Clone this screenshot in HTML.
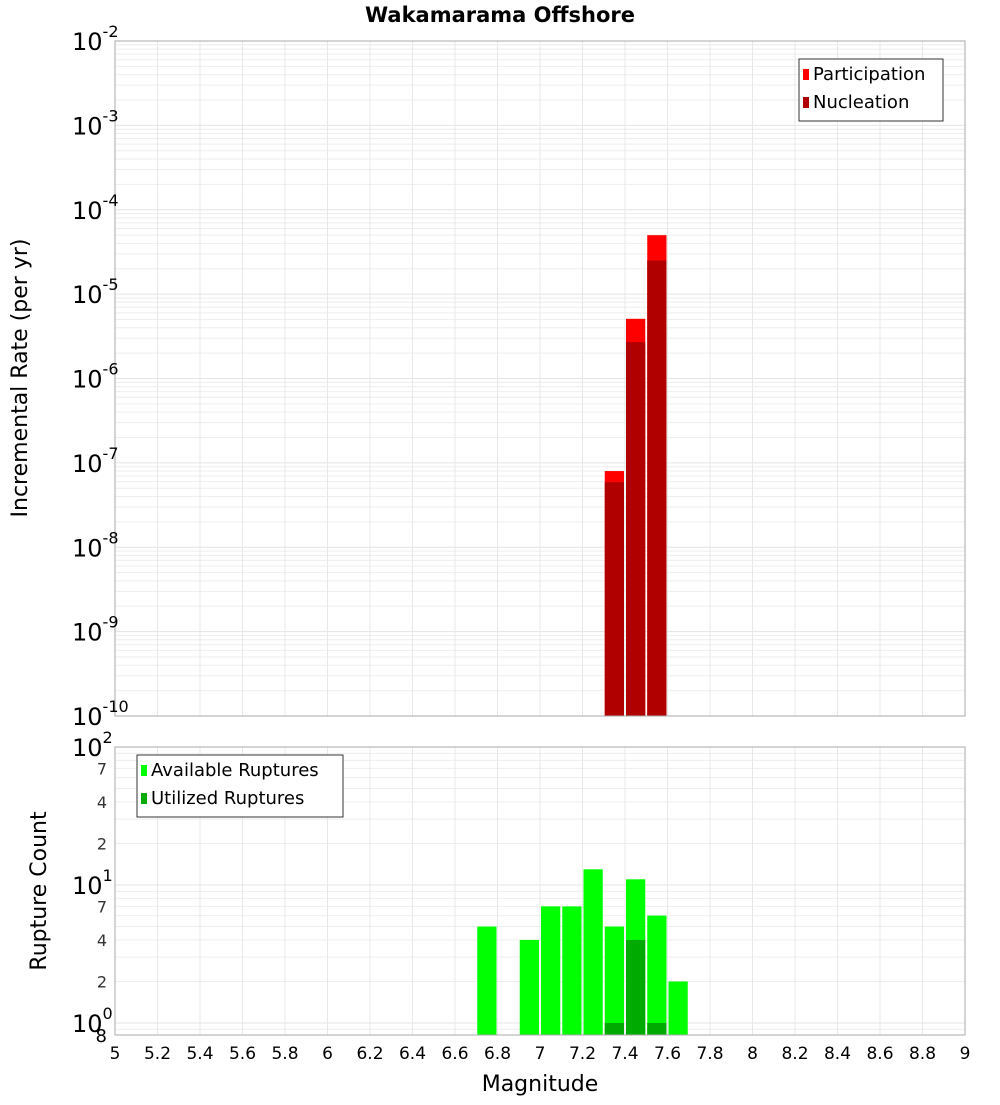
<!DOCTYPE html>
<html><head><meta charset="utf-8"><style>
body{margin:0;background:#fff}
svg text{font-family:"DejaVu Sans","Liberation Sans",sans-serif}
</style></head><body>
<svg id="c" width="1000" height="1100" xmlns="http://www.w3.org/2000/svg">
<text x="500" y="22" text-anchor="middle" font-size="21" font-weight="bold">Wakamarama Offshore</text>
<g id="top"></g>
<g id="bot"></g>
<text transform="translate(27,378) rotate(-90)" text-anchor="middle" font-size="22">Incremental Rate (per yr)</text>
<text transform="translate(46,891) rotate(-90)" text-anchor="middle" font-size="22">Rupture Count</text>
<text x="540" y="1091" text-anchor="middle" font-size="22">Magnitude</text>
</svg>
<script>
const mags = [6.75,6.85,6.95,7.05,7.15,7.25,7.35,7.45,7.55,7.65];
const participation = [0,0,0,0,0,0,8.0e-8,5.1e-6,5.0e-5,0];
const nucleation = [0,0,0,0,0,0,5.9e-8,2.7e-6,2.5e-5,0];
const available = [5,0,4,7,7,13,5,11,6,2];
const utilized = [0,0,0,0,0,0,1,4,1,0];
const xTicks = [5,5.2,5.4,5.6,5.8,6,6.2,6.4,6.6,6.8,7,7.2,7.4,7.6,7.8,8,8.2,8.4,8.6,8.8,9];
const topExps = [-2,-3,-4,-5,-6,-7,-8,-9,-10];
const botMinor = [2,4,7];

const NS='http://www.w3.org/2000/svg';
const L=115,R=965;
const x=m=>L+(m-5)/4*(R-L);
const T1=41,B1=716;
const y1=v=>T1+(-2-Math.log10(v))*(B1-T1)/8;
const T2=747,B2=1035,D2=138;
const y2=v=>T2+(2-Math.log10(v))*D2;
function el(p,t,a,txt){const e=document.createElementNS(NS,t);for(const k in a)e.setAttribute(k,a[k]);if(txt!==undefined)e.textContent=txt;p.appendChild(e);return e;}
const gTop=document.getElementById('top'),gBot=document.getElementById('bot');

function frame(g,T,B,minorYs,majorYs){
  for(const yy of minorYs){const ln=el(g,'line',{x1:L,x2:R,y1:yy,y2:yy,stroke:'#eeeeee','stroke-width':1});}
  for(const yy of majorYs){const ln=el(g,'line',{x1:L,x2:R,y1:yy,y2:yy,stroke:'#e4e4e4','stroke-width':1});}
  for(const t of xTicks){const ln=el(g,'line',{x1:x(t),x2:x(t),y1:T,y2:B,stroke:'#e8e8e8','stroke-width':1});}
}
let mn=[],mj=[];
for(let e=-10;e<-2;e++){for(let k=2;k<10;k++)mn.push(y1(k*Math.pow(10,e)));}
for(const e of topExps)mj.push(y1(Math.pow(10,e)));
frame(gTop,T1,B1,mn,mj);
mn=[];mj=[];
for(let e=-1;e<2;e++){for(let k=2;k<10;k++){const v=k*Math.pow(10,e);const yy=y2(v);if(yy>T2&&yy<B2)mn.push(yy);}}
for(const e of [0,1,2])mj.push(y2(Math.pow(10,e)));
frame(gBot,T2,B2,mn,mj);

const bw=x(5.1)-x(5)-2;
for(let i=0;i<mags.length;i++){
  if(participation[i]>0){const r=el(gTop,'rect',{x:x(mags[i])-bw/2,y:y1(participation[i]),width:bw,height:B1-y1(participation[i]),fill:'#ff0000'});}
  if(nucleation[i]>0){const r=el(gTop,'rect',{x:x(mags[i])-bw/2,y:y1(nucleation[i]),width:bw,height:B1-y1(nucleation[i]),fill:'#b00000'});}
}
for(let i=0;i<mags.length;i++){
  if(available[i]>0){const r=el(gBot,'rect',{x:x(mags[i])-bw/2,y:y2(available[i]),width:bw,height:B2-y2(available[i]),fill:'#00ff00'});}
  if(utilized[i]>0){const r=el(gBot,'rect',{x:x(mags[i])-bw/2,y:y2(utilized[i]),width:bw,height:B2-y2(utilized[i]),fill:'#00aa00'});}
}
let f=el(gTop,'rect',{x:L,y:T1,width:R-L,height:B1-T1,fill:'none',stroke:'#aaaaaa'});
f=el(gBot,'rect',{x:L,y:T2,width:R-L,height:B2-T2,fill:'none',stroke:'#aaaaaa'});

for(const e of topExps){
  const yy=y1(Math.pow(10,e));
  const t=el(gTop,'text',{x:72,y:yy+9,'font-size':24});
  
  
  t.textContent='10';
  el(t,'tspan',{dy:-13,'font-size':16},String(e));
}
for(const e of [0,1,2]){
  const yy=y2(Math.pow(10,e));
  const t=el(gBot,'text',{x:72,y:yy+9,'font-size':24});
  
  
  t.textContent='10';
  el(t,'tspan',{dy:-13,'font-size':16},String(e));
}
for(let e=-1;e<2;e++){for(const k of botMinor){const v=k*Math.pow(10,e);const yy=y2(v);if(yy>T2&&yy<B2){const t=el(gBot,'text',{x:107,y:yy+6,'text-anchor':'end','font-size':16,fill:'#333'},String(k));}}}
const t8=el(gBot,'text',{x:107,y:1042,'text-anchor':'end','font-size':18},'8');


for(const t of xTicks){const tx=el(gBot,'text',{x:x(t),y:1059,'text-anchor':'middle','font-size':17},String(t));}

function legend(g,lx,ly,w,items){
  const lg=el(g,'g',{});
  
  
  el(lg,'rect',{x:lx,y:ly,width:w,height:items.length*28+6,fill:'#fff',stroke:'#333'});
  items.forEach((it,i)=>{
    const e=el(lg,'g',{});
    
    
    el(e,'rect',{x:lx+4,y:ly+10+i*28,width:6,height:11,fill:it[1]});
    el(e,'text',{x:lx+14,y:ly+21+i*28,'font-size':18},it[0]);
  });
}
legend(gTop,799,59,144,[['Participation','#ff0000'],['Nucleation','#b00000']]);
legend(gBot,137,755,206,[['Available Ruptures','#00ff00'],['Utilized Ruptures','#00aa00']]);
</script>
</body></html>
